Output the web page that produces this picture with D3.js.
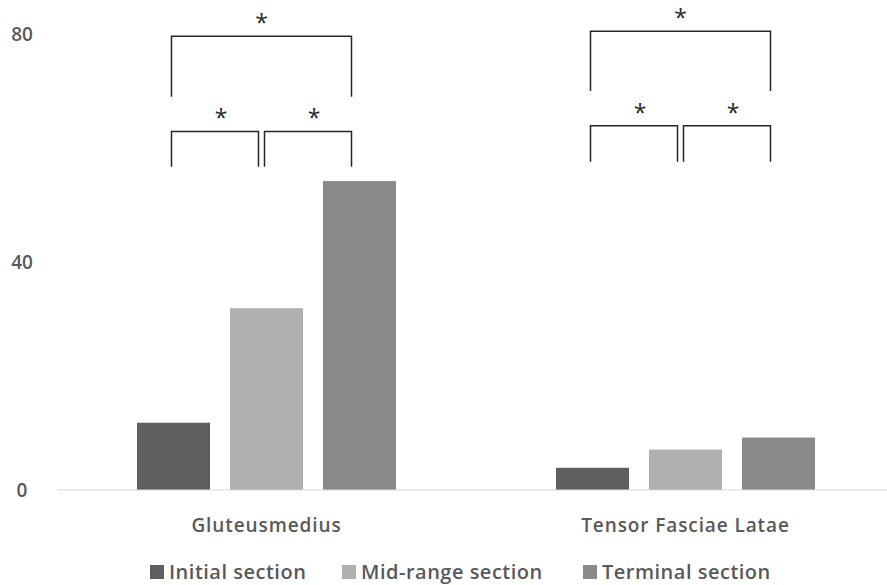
<!DOCTYPE html>
<html>
<head>
<meta charset="utf-8">
<script src="https://cdn.jsdelivr.net/npm/d3@7"></script>
<style>
  body { margin: 0; background: #fff; }
  text { font-family: "Open Sans", "Noto Sans", sans-serif; fill: #595959; font-weight: 600; }
</style>
</head>
<body>
<div class="canvas"></div>
<script>
// data
const categories = ["Gluteusmedius", "Tensor Fasciae Latae"];
const series = ["Initial section", "Mid-range section", "Terminal section"];
const initialValues = [11.8, 3.9];
const midValues = [31.9, 7.1];
const terminalValues = [54.2, 9.2];
const yTicks = [0, 40, 80];
// significance brackets: category, from series, to series, top, bottom (in data units)
const brackets = [
  { cat: 0, from: 0, to: 2, top: 79.6, bottom: 69.0 },
  { cat: 0, from: 0, to: 1, top: 62.9, bottom: 56.7 },
  { cat: 0, from: 1, to: 2, top: 62.9, bottom: 56.7 },
  { cat: 1, from: 0, to: 2, top: 80.5, bottom: 70.0 },
  { cat: 1, from: 0, to: 1, top: 63.9, bottom: 57.6 },
  { cat: 1, from: 1, to: 2, top: 63.9, bottom: 57.6 },
];

const colors = ["#5f5f5f", "#b0b0b0", "#8a8a8a"];
const allValues = [initialValues, midValues, terminalValues];

// dimensions
const w = 887;
const h = 585;
const margin = { top: 34, right: -8, bottom: 95, left: 57 };

const svg = d3.select(".canvas").append("svg").attr("width", w).attr("height", h);

const x0 = d3.scaleBand().domain(categories).range([margin.left, w - margin.right]);
const x1 = d3.scaleBand().domain(series).range([0, x0.bandwidth()]).paddingInner(0.215).paddingOuter(0.86);
const y = d3.scaleLinear().domain([0, 80]).range([h - margin.bottom, margin.top]);

// y tick labels
svg
  .append("g")
  .selectAll("text")
  .data(yTicks)
  .enter()
  .append("text")
  .attr("x", 22)
  .attr("y", (d) => y(d))
  .attr("dy", "0.35em")
  .attr("text-anchor", "middle")
  .attr("font-size", 19)
  .text((d) => d);

// bars
const groups = svg
  .selectAll("g.cat")
  .data(categories)
  .enter()
  .append("g")
  .attr("class", "cat")
  .attr("transform", (d) => `translate(${x0(d)},0)`);

groups
  .selectAll("rect")
  .data((d, ci) => series.map((s, si) => ({ s, v: allValues[si][ci], i: si })))
  .enter()
  .append("rect")
  .attr("x", (d) => x1(d.s))
  .attr("y", (d) => y(d.v))
  .attr("width", x1.bandwidth())
  .attr("height", (d) => y(0) - y(d.v))
  .attr("fill", (d) => colors[d.i]);

// baseline
svg
  .append("line")
  .attr("x1", margin.left)
  .attr("x2", w)
  .attr("y1", y(0))
  .attr("y2", y(0))
  .attr("stroke", "#d9d9d9")
  .attr("stroke-width", 1);

// category labels
svg
  .selectAll("text.cat")
  .data(categories)
  .enter()
  .append("text")
  .attr("class", "cat")
  .attr("x", (d) => x0(d) + x0.bandwidth() / 2)
  .attr("y", 532)
  .attr("text-anchor", "middle")
  .attr("font-size", 19)
  .attr("letter-spacing", 0.9)
  .text((d) => d);

// brackets
const barCenter = (ci, si) => x0(categories[ci]) + x1(series[si]) + x1.bandwidth() / 2;
const bx = (b) => [barCenter(b.cat, b.from) - 2, barCenter(b.cat, b.to) - 8];

svg
  .selectAll("path.bracket")
  .data(brackets)
  .enter()
  .append("path")
  .attr("class", "bracket")
  .attr("d", (b) => {
    const [a, c] = bx(b);
    return `M${a},${y(b.bottom)}V${y(b.top)}H${c}V${y(b.bottom)}`;
  })
  .attr("fill", "none")
  .attr("stroke", "#262626")
  .attr("stroke-width", 1.5);

svg
  .selectAll("text.star")
  .data(brackets)
  .enter()
  .append("text")
  .attr("class", "star")
  .attr("x", (b) => d3.mean(bx(b)) + (b.to - b.from === 1 ? 6 : 0))
  .attr("y", (b) => y(b.top) - 5)
  .attr("text-anchor", "middle")
  .attr("font-size", 23)
  .style("font-weight", "normal")
  .style("fill", "#262626")
  .text("*");

// legend
const legendX = [150, 342, 583];
const legend = svg
  .selectAll("g.legend")
  .data(series)
  .enter()
  .append("g")
  .attr("class", "legend")
  .attr("transform", (d, i) => `translate(${legendX[i]}, 572)`);
legend
  .append("rect")
  .attr("x", 0)
  .attr("y", -7)
  .attr("width", 14)
  .attr("height", 14)
  .attr("fill", (d, i) => colors[i]);
legend
  .append("text")
  .attr("x", 19)
  .attr("dy", "0.35em")
  .attr("font-size", 20)
  .attr("letter-spacing", 0.5)
  .text((d) => d);
</script>
</body>
</html>
